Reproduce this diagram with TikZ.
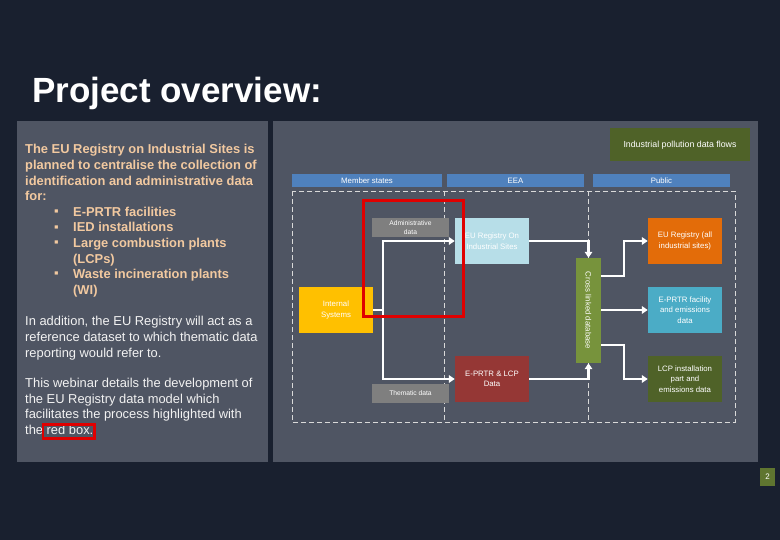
\documentclass[tikz,border=0pt]{standalone}
\usepackage{fontspec}
\setmainfont{Liberation Sans}
\usetikzlibrary{arrows.meta,calc}
\definecolor{bgc}{HTML}{19202F}
\definecolor{panelc}{HTML}{4F5563}
\definecolor{peach}{HTML}{F2C9A0}
\definecolor{lighttxt}{HTML}{F2F2F2}
\definecolor{hblue}{HTML}{4F81BD}
\definecolor{grayc}{HTML}{7F7F7F}
\definecolor{lblue}{HTML}{B7DEE8}
\definecolor{amber}{HTML}{FFC000}
\definecolor{dred}{HTML}{953735}
\definecolor{xgreen}{HTML}{77933C}
\definecolor{orangec}{HTML}{E36C09}
\definecolor{tealc}{HTML}{4BACC6}
\definecolor{olivec}{HTML}{4F6228}
\definecolor{dashc}{HTML}{D9D9D9}
\definecolor{redc}{HTML}{E00000}
\definecolor{pagec}{HTML}{5F7530}
\begin{document}
\begin{tikzpicture}[x=1pt,y=-1pt,
  boldline/.style={anchor=base west, inner sep=0pt, text=peach, font=\fontsize{12.9}{15}\selectfont\bfseries},
  regline/.style={anchor=base west, inner sep=0pt, text=lighttxt, font=\fontsize{12.9}{15}\selectfont},
  bul/.style={anchor=base west, inner sep=0pt, text=peach, font=\fontsize{13}{14}\selectfont},
  dbox/.style={rectangle, inner sep=1pt, align=center, text=white, font=\fontsize{7.8}{10.5}\selectfont},
  gbox/.style={dbox, fill=grayc, minimum width=77, minimum height=19, font=\fontsize{6.7}{8.5}\selectfont},
  cbox/.style={dbox, minimum width=74, minimum height=46},
  hbar/.style={dbox, fill=hblue, minimum height=13, inner sep=0pt},
  frame/.style={draw=dashc, line width=0.8pt, dash pattern=on 5pt off 3pt},
  flow/.style={draw=white, line width=2.8pt},
  flowarrow/.style={flow, -{Triangle[length=6pt,width=7.5pt]}}
]
\fill[bgc] (0,0) rectangle (780,540);
\useasboundingbox (0,0) rectangle (780,540);

% panels
\fill[panelc] (17,121) rectangle (268,462);
\fill[panelc] (273,121) rectangle (758,462);

% title
\node[anchor=base west, inner sep=0pt, text=white, font=\fontsize{35}{40}\selectfont\bfseries] (title) at (32,103) {Project overview:};

% left text
\node[boldline] (l1) at (25,154) {The EU Registry on Industrial Sites is};
\node[boldline] (l2) at (25,169.6) {planned to centralise the collection of};
\node[boldline] (l3) at (25,185.2) {identification and administrative data};
\node[boldline] (l4) at (25,200.8) {for:};
\node[bul] (b1) at (54,215.5) {▪};
\node[boldline] (l5) at (73,216.4) {E-PRTR facilities};
\node[bul] (b2) at (54,231.1) {▪};
\node[boldline] (l6) at (73,232) {IED installations};
\node[bul] (b3) at (54,246.7) {▪};
\node[boldline] (l7) at (73,247.6) {Large combustion plants};
\node[boldline] (l8) at (73,263.2) {(LCPs)};
\node[bul] (b4) at (54,277.9) {▪};
\node[boldline] (l9) at (73,278.8) {Waste incineration plants};
\node[boldline] (l10) at (73,294.4) {(WI)};

\node[regline] (r1) at (25,326) {In addition, the EU Registry will act as a};
\node[regline] (r2) at (25,341.6) {reference dataset to which thematic data};
\node[regline] (r3) at (25,357.2) {reporting would refer to.};
\node[regline] (r4) at (25,387.4) {This webinar details the development of};
\node[regline] (r5) at (25,403) {the EU Registry data model which};
\node[regline] (r6) at (25,418.6) {facilitates the process highlighted with};
\node[regline] (r7) at (25,434.2) {the red box.};
\draw[redc, line width=2.6pt] (43,424.5) rectangle (94.5,438.5);

% right panel title
\node[dbox, fill=olivec, minimum width=140, minimum height=33, font=\fontsize{8.8}{10}\selectfont] (ipdf) at (680,145) {Industrial pollution data flows};

% header bars
\node[hbar, minimum width=150] (hms) at (367,180.5) {Member states};
\node[hbar, minimum width=137] (heea) at (515.5,180.5) {EEA};
\node[hbar, minimum width=137] (hpub) at (661.5,180.5) {Public};

% dashed frames
\draw[frame] (292,191) rectangle (735,422);
\draw[frame] (444,191) -- (444,422);
\draw[frame] (588,191) -- (588,422);

% boxes
\node[gbox] (adm) at (410.5,227.5) {Administrative\\data};
\node[gbox] (them) at (410.5,393.5) {Thematic data};
\node[cbox, fill=amber] (intsys) at (336,310) {Internal\\Systems};
\node[cbox, fill=lblue] (eureg) at (492,241) {EU Registry On\\Industrial Sites};
\node[cbox, fill=dred] (eplcp) at (492,379) {E-PRTR \& LCP\\Data};
\node[dbox, fill=xgreen, minimum width=25, minimum height=105] (cross) at (588.5,310.5) {};
\node[rotate=-90, inner sep=0pt, text=white, font=\fontsize{7.8}{9}\selectfont] (crosstxt) at (cross.center) {Cross linked database};
\node[cbox, fill=orangec] (euall) at (685,241) {EU Registry (all\\industrial sites)};
\node[cbox, fill=tealc] (epf) at (685,310) {E-PRTR facility\\and emissions\\data};
\node[cbox, fill=olivec] (lcpi) at (685,379) {LCP installation\\part and\\emissions data};

% connectors
\coordinate (j1) at (383,310);
\draw[flow] (intsys.east) -- (j1);
\draw[flowarrow] ($(j1)+(0,1.4)$) |- (eureg.west);
\draw[flowarrow] ($(j1)+(0,-1.4)$) |- (eplcp.west);
\draw[flowarrow] (eureg.east) -| (cross.north);
\draw[flowarrow] (eplcp.east) -| (cross.south);
\coordinate (c1) at ($(cross.east)+(0,-34.5)$);
\coordinate (c2) at ($(cross.east)+(0,-0.5)$);
\coordinate (c3) at ($(cross.east)+(0,34.5)$);
\coordinate (k1) at (624,276);
\coordinate (k3) at (624,345);
\draw[flowarrow] (c1) -- (k1) |- (euall.west);
\draw[flowarrow] (c2) -- (epf.west);
\draw[flowarrow] (c3) -- (k3) |- (lcpi.west);

% red highlight
\draw[redc, line width=3pt] (363,201) rectangle (463,317);

% page number
\node[dbox, fill=pagec, minimum width=15, minimum height=18, font=\fontsize{8}{9}\selectfont] (pg) at (767.5,477) {2};
\end{tikzpicture}
\end{document}
